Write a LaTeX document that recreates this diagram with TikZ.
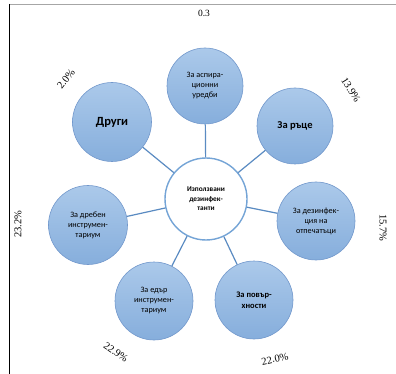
\documentclass[tikz,border=0pt]{standalone}
\usepackage{fontspec}
\setmainfont{Liberation Serif}
\newfontfamily\lblfont{Carlito}
\begin{document}
\begin{tikzpicture}[x=1pt,y=-1pt,
  outer/.style={circle,draw=bordblue,line width=0.6pt,top color=topblue,bottom color=botblue,
    minimum size=#1,inner sep=0pt,align=center,font=\lblfont\fontsize{8.2}{10}\selectfont},
  outer/.default=78pt,
  hub/.style={circle,draw=hubblue,line width=1.4pt,fill=white,minimum size=82pt,inner sep=0pt,
    align=center,font=\lblfont\bfseries\fontsize{7.3}{9.5}\selectfont},
  spoke/.style={draw=lineblue,line width=1.2pt},
  pct/.style={font=\fontsize{10.5}{12}\selectfont,inner sep=0pt}]
\definecolor{topblue}{HTML}{ABC9EA}
\definecolor{botblue}{HTML}{86AEDC}
\definecolor{bordblue}{HTML}{7298CC}
\definecolor{hubblue}{HTML}{74A4D6}
\definecolor{lineblue}{HTML}{5A8BC2}
\useasboundingbox (0,0) rectangle (396,374);
\fill[white] (0,0) rectangle (396,374);
\coordinate (tl) at (9,4.5);
\coordinate (tr) at (396,4.5);
\coordinate (bl) at (9.5,374);
\draw[gray!70,line width=1.6pt] (tl) -- (tr);
\draw[black,line width=1pt] (9.5,4) -- (bl);
% hub
\node[hub] (c) at (206,199) {Използвани\\дезинфек-\\танти};
% outer circles
\node[outer=76pt] (a) at (205,86) {За аспира-\\ционни\\уредби};
\node[outer=79pt,font=\lblfont\bfseries\fontsize{12.5}{14}\selectfont] (o) at (112,122) {Други};
\node[outer=76pt,font=\lblfont\bfseries\fontsize{10.5}{12}\selectfont] (h) at (295,126) {За ръце};
\node[outer=79pt] (s) at (88,225) {За дребен\\инструмен-\\тариум};
\node[outer=78pt] (p) at (316,221) {За дезинфек-\\ция на\\отпечатъци};
\node[outer=78pt] (l) at (154,301) {За едър\\инструмен-\\тариум};
\node[outer=78pt,font=\lblfont\bfseries\fontsize{8.5}{10.5}\selectfont] (f) at (254,300) {За повър-\\хности};
% spokes
\foreach \n in {a,o,h,s,p,l,f} \draw[spoke] (c) -- (\n);
% percentages
\node[pct,font=\fontsize{9.5}{11}\selectfont] (v0) at (204,13) {0.3};
\node[pct,rotate=52] (v1) at (66,79) {2.0\%};
\node[pct,rotate=-58] (v2) at (351,90) {13.9\%};
\node[pct,rotate=-90] (v3) at (383,228) {15.7\%};
\node[pct,rotate=90] (v4) at (18,224) {23.2\%};
\node[pct,rotate=-35] (v5) at (116,352) {22.9\%};
\node[pct,rotate=12] (v6) at (275,359) {22.0\%};
\end{tikzpicture}
\end{document}
